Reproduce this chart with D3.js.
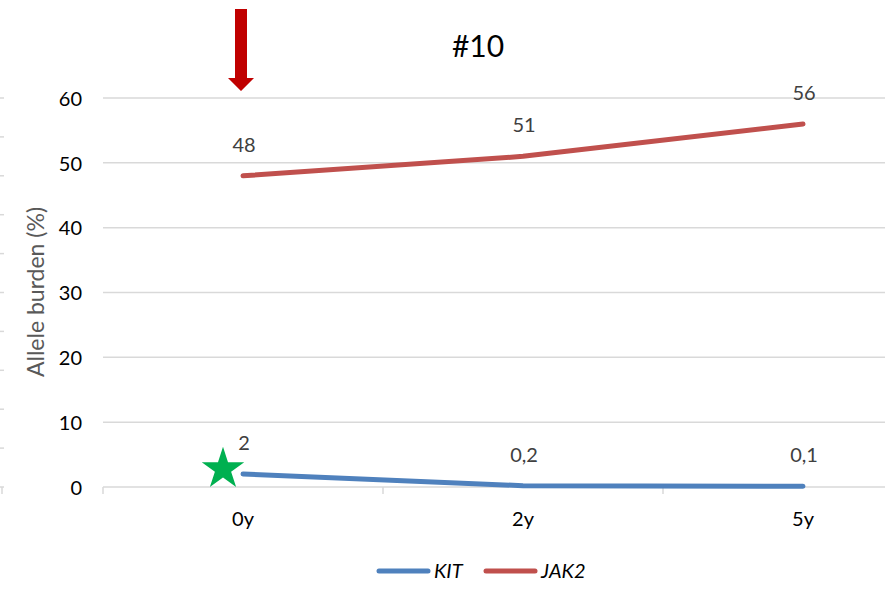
<!DOCTYPE html>
<html>
<head>
<meta charset="utf-8">
<script src="https://cdn.jsdelivr.net/npm/d3@7"></script>
<style>
  html, body { margin: 0; padding: 0; background: #fff; }
  svg { display: block; }
</style>
</head>
<body>
<svg id="chart" width="885" height="591"></svg>
<script>
// Time points and allele burden (%) per mutation
const categories = ["0y", "2y", "5y"];
const kitValues = [2, 0.2, 0.1];
const jak2Values = [48, 51, 56];
const yTicks = [0, 10, 20, 30, 40, 50, 60];
const seriesNames = ["KIT", "JAK2"];
const seriesColors = ["#4f81bd", "#c0504d"];
const titleText = "#10";
const yTitle = "Allele burden (%)";
const edgeTicks = d3.range(0, 11); // axis ticks of the neighbouring panel at the left edge

const fmt = v => String(v).replace(".", ",");
const FONT = "Lato, 'Open Sans', sans-serif";

const svg = d3.select("#chart");

const x = d3.scaleBand().domain(categories).range([103, 943]);
const y = d3.scaleLinear().domain([0, 60]).range([487, 98]);
const yEdge = d3.scaleLinear().domain([0, 10]).range([487, 98]);

// Gridlines
svg.append("g")
  .selectAll("line")
  .data(yTicks.filter(t => t > 0))
  .join("line")
  .attr("x1", 103).attr("x2", 885)
  .attr("y1", d => y(d)).attr("y2", d => y(d))
  .attr("stroke", "#d9d9d9").attr("stroke-width", 1.5);

// X axis with category boundary ticks
const xAxis = d3.axisBottom(x).tickSize(0).tickPadding(0);
const gx = svg.append("g").attr("transform", `translate(0,${y(0)})`).call(xAxis);
gx.select(".domain").remove();
gx.append("line").attr("x1", 103).attr("x2", 885).attr("y1", 0).attr("y2", 0)
  .attr("stroke", "#d9d9d9").attr("stroke-width", 1.5);
gx.selectAll(".bound")
  .data(categories)
  .join("line")
  .attr("class", "bound")
  .attr("x1", d => x(d)).attr("x2", d => x(d))
  .attr("y1", 0).attr("y2", 7)
  .attr("stroke", "#d9d9d9").attr("stroke-width", 1.5);
gx.selectAll(".tick text")
  .attr("y", 39)
  .attr("dy", 0)
  .attr("fill", "#000")
  .style("font-family", FONT)
  .style("font-size", "20px");

// Y axis labels
const yAxis = d3.axisLeft(y).tickValues(yTicks).tickSize(0).tickPadding(0);
const gy = svg.append("g").attr("transform", "translate(82,0)").call(yAxis);
gy.select(".domain").remove();
gy.selectAll(".tick text")
  .attr("fill", "#000")
  .attr("dy", "0.36em")
  .style("font-family", FONT)
  .style("font-size", "20px");

// Left edge ticks
svg.append("g")
  .selectAll("line")
  .data(edgeTicks)
  .join("line")
  .attr("x1", 0).attr("x2", 4)
  .attr("y1", d => yEdge(d)).attr("y2", d => yEdge(d))
  .attr("stroke", "#d9d9d9").attr("stroke-width", 1.5);
svg.append("line").attr("x1", 2).attr("x2", 2).attr("y1", 487).attr("y2", 494)
  .attr("stroke", "#d9d9d9").attr("stroke-width", 1.5);

// Y axis title
svg.append("text")
  .attr("transform", "translate(44,292) rotate(-90)")
  .attr("text-anchor", "middle")
  .attr("fill", "#595959")
  .style("font-family", FONT)
  .style("font-size", "23px")
  .text(yTitle);

// Chart title
svg.append("text")
  .attr("x", 478).attr("y", 57)
  .attr("text-anchor", "middle")
  .attr("fill", "#000")
  .style("font-family", FONT)
  .style("font-size", "30px")
  .text(titleText);

// Series lines
const cx = c => x(c) + x.bandwidth() / 2;
const line = d3.line().x(d => cx(d.cat)).y(d => y(d.v));
const series = [kitValues, jak2Values].map((vals, i) => ({
  name: seriesNames[i],
  color: seriesColors[i],
  points: categories.map((c, j) => ({ cat: c, v: vals[j] }))
}));

svg.append("g")
  .selectAll("path")
  .data(series)
  .join("path")
  .attr("d", d => line(d.points))
  .attr("fill", "none")
  .attr("stroke", d => d.color)
  .attr("stroke-width", 5)
  .attr("stroke-linecap", "round")
  .attr("stroke-linejoin", "round");

// Data labels
series.forEach(s => {
  svg.append("g")
    .selectAll("text")
    .data(s.points)
    .join("text")
    .attr("x", d => cx(d.cat) + 1)
    .attr("y", d => y(d.v) - 24)
    .attr("text-anchor", "middle")
    .attr("fill", "#404040")
    .style("font-family", FONT)
    .style("font-size", "20px")
    .text(d => fmt(d.v));
});

// Green star marker beside the first KIT point
const star = d3.symbol().type(d3.symbolStar).size(560);
svg.append("path")
  .attr("d", star())
  .attr("transform", `translate(${cx(categories[0]) - 20},${y(kitValues[0]) - 5})`)
  .attr("fill", "#00b050");

// Red arrow pointing down at the first time point
const ax = cx(categories[0]) - 2;
svg.append("path")
  .attr("d", `M${ax - 6},9 L${ax + 6},9 L${ax + 6},78 L${ax + 13},78 L${ax},91 L${ax - 13},78 L${ax - 6},78 Z`)
  .attr("fill", "#c00000");

// Legend
const legend = svg.append("g");
const legendItems = [
  { name: seriesNames[0], color: seriesColors[0], x: 377 },
  { name: seriesNames[1], color: seriesColors[1], x: 484 }
];
legendItems.forEach(it => {
  legend.append("line")
    .attr("x1", it.x + 2).attr("x2", it.x + 51)
    .attr("y1", 571).attr("y2", 571)
    .attr("stroke", it.color).attr("stroke-width", 5)
    .attr("stroke-linecap", "round");
  legend.append("text")
    .attr("x", it.x + 57).attr("y", 578)
    .attr("fill", "#000")
    .style("font-family", FONT)
    .style("font-size", "20px")
    .style("font-style", "italic")
    .text(it.name);
});
</script>
</body>
</html>
